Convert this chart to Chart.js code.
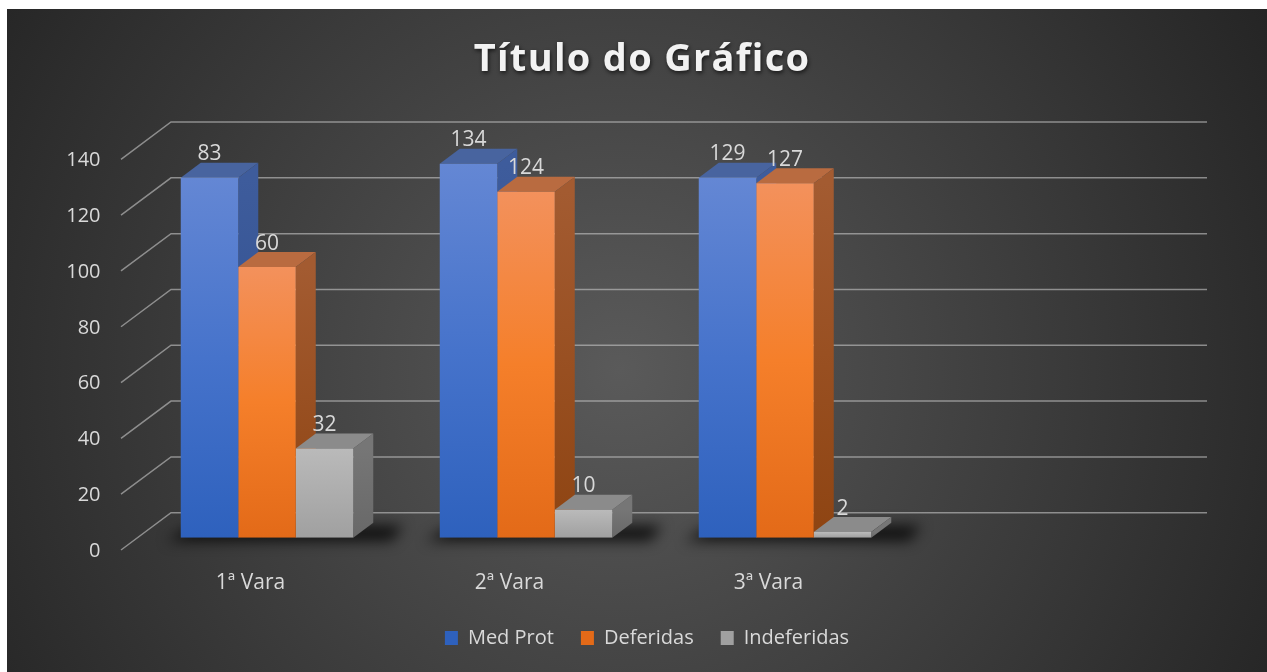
<!DOCTYPE html>
<html>
<head>
<meta charset="utf-8">
<script src="https://cdn.jsdelivr.net/npm/chart.js@4"></script>
<style>
  html, body { margin: 0; padding: 0; background: #fff; }
</style>
</head>
<body>
<canvas id="grafico" width="1267" height="672"></canvas>
<script>
// dados
const titulo = 'Título do Gráfico';
const categorias = ['1ª Vara', '2ª Vara', '3ª Vara', ''];
const medProt = [129, 134, 129, null];
const deferidas = [97, 124, 127, null];
const indeferidas = [32, 10, 2, null];
// rótulos escritos sobre as barras (no original não batem com a altura das duas primeiras)
const rotulosMedProt = ['83', '134', '129'];
const rotulosDeferidas = ['60', '124', '127'];
const rotulosIndeferidas = ['32', '10', '2'];

// deslocamentos da perspectiva (px)
const DX = 20, DY = -15;        // profundidade da barra
const FX = -16.5, FY = 12.3;    // plano do eixo (frente)
const BX = 33.5, BY = -25;      // parede do fundo

const FONTE = '"Open Sans", "DejaVu Sans", sans-serif';

let frente = (cor) => (ctx) => {
    if (ctx.type !== 'data' || ctx.raw == null) return cor.legenda;
    let ys = ctx.chart.scales.y;
    if (!ys) return cor.legenda;
    let topo = ys.getPixelForValue(ctx.raw);
    let base = ys.getPixelForValue(0);
    if (!isFinite(topo) || !isFinite(base) || topo === base) return cor.legenda;
    let g = ctx.chart.ctx.createLinearGradient(0, topo, 0, base);
    g.addColorStop(0, cor.topo);
    g.addColorStop(0.5, cor.meio);
    g.addColorStop(1, cor.base);
    return g;
};

const corMed = { topo: '#6487d4', meio: '#4673cb', base: '#2e61bd', lado1: '#3e5c9c', lado2: '#2b4b8a', tampa: '#48649f', legenda: '#4472c4' };
const corDef = { topo: '#f3915c', meio: '#f57f2a', base: '#e36a18', lado1: '#a35b31', lado2: '#8e4412', tampa: '#b96b40', legenda: '#ed7d31' };
const corInd = { topo: '#bababa', meio: '#adadad', base: '#a0a0a0', lado1: '#767676', lado2: '#686868', tampa: '#8b8b8b', legenda: '#a5a5a5' };

const efeito3d = {
    id: 'efeito3d',
    afterLayout(chart) {
        // a legenda do original fica um pouco à esquerda do centro da área
        chart.legend.left -= 8.5;
        chart.legend.right -= 8.5;
    },
    beforeDraw(chart) {
        let c = chart.ctx;
        c.save();
        c.fillStyle = '#ffffff';
        c.fillRect(0, 0, chart.width, chart.height);
        let g = c.createRadialGradient(620, 370, 0, 620, 370, 780);
        g.addColorStop(0, '#5a5a5a');
        g.addColorStop(1, '#222222');
        c.fillStyle = g;
        c.fillRect(7, 9, chart.width - 7, chart.height - 9);

        c.font = 'bold 38px ' + FONTE;
        c.letterSpacing = '1.3px';
        c.textAlign = 'center';
        c.textBaseline = 'alphabetic';
        c.shadowColor = 'rgba(0,0,0,0.65)';
        c.shadowBlur = 4;
        c.shadowOffsetX = 1;
        c.shadowOffsetY = 2;
        c.fillStyle = '#f2f2f2';
        c.fillText(titulo, 642, 71);
        c.restore();
    },
    beforeDatasetsDraw(chart) {
        let c = chart.ctx, ys = chart.scales.y, area = chart.chartArea;
        c.save();
        // linhas de grade (frente inclinada + fundo)
        c.strokeStyle = 'rgba(195,195,195,0.62)';
        c.lineWidth = 1.5;
        ys.ticks.forEach(t => {
            let py = ys.getPixelForValue(t.value);
            c.beginPath();
            c.moveTo(area.left + FX, py + FY);
            c.lineTo(area.left + BX, py + BY);
            c.lineTo(area.right + BX, py + BY);
            c.stroke();
        });

        let metas = chart.data.datasets.map((ds, d) => chart.getDatasetMeta(d));
        // sombra no chão
        chart.data.labels.forEach((lab, i) => {
            let barras = metas.map(m => m.data[i]).filter((b, d) => b && chart.data.datasets[d].data[i] != null);
            if (!barras.length) return;
            let l = barras[0].x - barras[0].width / 2;
            let r = barras[barras.length - 1].x + barras[barras.length - 1].width / 2;
            let base = barras[0].base;
            c.save();
            c.filter = 'blur(7px)';
            c.fillStyle = 'rgba(0,0,0,0.8)';
            c.beginPath();
            c.moveTo(l - 14, base + 3);
            c.lineTo(r + DX + 18, base + 3);
            c.lineTo(r + DX + 30, base + DY + 3);
            c.lineTo(l + DX - 8, base + DY + 3);
            c.closePath();
            c.fill();
            c.restore();
        });

        // tampa e lateral de cada barra
        chart.data.labels.forEach((lab, i) => {
            chart.data.datasets.forEach((ds, d) => {
                let b = metas[d].data[i];
                if (!b || ds.data[i] == null) return;
                let l = b.x - b.width / 2, r = b.x + b.width / 2, topo = b.y, base = b.base;
                let cor = ds.cor3d;
                c.fillStyle = cor.tampa;
                c.beginPath();
                c.moveTo(l, topo);
                c.lineTo(l + DX, topo + DY);
                c.lineTo(r + DX, topo + DY);
                c.lineTo(r, topo);
                c.closePath();
                c.fill();
                let g = c.createLinearGradient(0, topo, 0, base);
                g.addColorStop(0, cor.lado1);
                g.addColorStop(1, cor.lado2);
                c.fillStyle = g;
                c.beginPath();
                c.moveTo(r, topo);
                c.lineTo(r + DX, topo + DY);
                c.lineTo(r + DX, base + DY);
                c.lineTo(r, base);
                c.closePath();
                c.fill();
            });
        });
        c.restore();
    },
    afterDatasetsDraw(chart) {
        let c = chart.ctx;
        c.save();
        c.font = '21px ' + FONTE;
        c.fillStyle = '#d9d9d9';
        c.textAlign = 'center';
        c.textBaseline = 'alphabetic';
        chart.data.datasets.forEach((ds, d) => {
            chart.getDatasetMeta(d).data.forEach((b, i) => {
                if (ds.data[i] == null) return;
                c.fillText(ds.rotulos[i], b.x, b.y + DY - 2.5);
            });
        });
        c.restore();
    }
};

let ctx = document.getElementById('grafico').getContext('2d');
let chart = new Chart(ctx, {
    type: 'bar',
    data: {
        labels: categorias,
        datasets: [{
            label: 'Med Prot',
            data: medProt,
            rotulos: rotulosMedProt,
            cor3d: corMed,
            backgroundColor: frente(corMed)
        }, {
            label: 'Deferidas',
            data: deferidas,
            rotulos: rotulosDeferidas,
            cor3d: corDef,
            backgroundColor: frente(corDef)
        }, {
            label: 'Indeferidas',
            data: indeferidas,
            rotulos: rotulosIndeferidas,
            cor3d: corInd,
            backgroundColor: frente(corInd)
        }]
    },
    options: {
        responsive: false,
        animation: false,
        devicePixelRatio: 1,
        categoryPercentage: 0.666,
        barPercentage: 1,
        layout: { padding: { top: 147, right: 93.5, left: 60, bottom: 14 } },
        scales: {
            x: {
                grid: { display: false, drawTicks: false },
                border: { display: false },
                ticks: { color: '#d9d9d9', font: { family: FONTE, size: 21 }, padding: 33, labelOffset: FX },
                afterFit: (s) => { s.height = 63.3; }
            },
            y: {
                min: 0,
                max: 140,
                grid: { display: false, drawTicks: false },
                border: { display: false },
                ticks: { stepSize: 20, color: '#d9d9d9', font: { family: FONTE, size: 20 }, padding: 37, labelOffset: 13.5 },
                afterFit: (s) => { s.width = 77.5; }
            }
        },
        plugins: {
            legend: {
                position: 'bottom',
                fullSize: false,
                labels: {
                    color: '#d9d9d9',
                    font: { family: FONTE, size: 20 },
                    boxWidth: 13,
                    boxHeight: 14,
                    padding: 27
                }
            },
            tooltip: { enabled: false }
        }
    },
    plugins: [efeito3d]
});
</script>
</body>
</html>
